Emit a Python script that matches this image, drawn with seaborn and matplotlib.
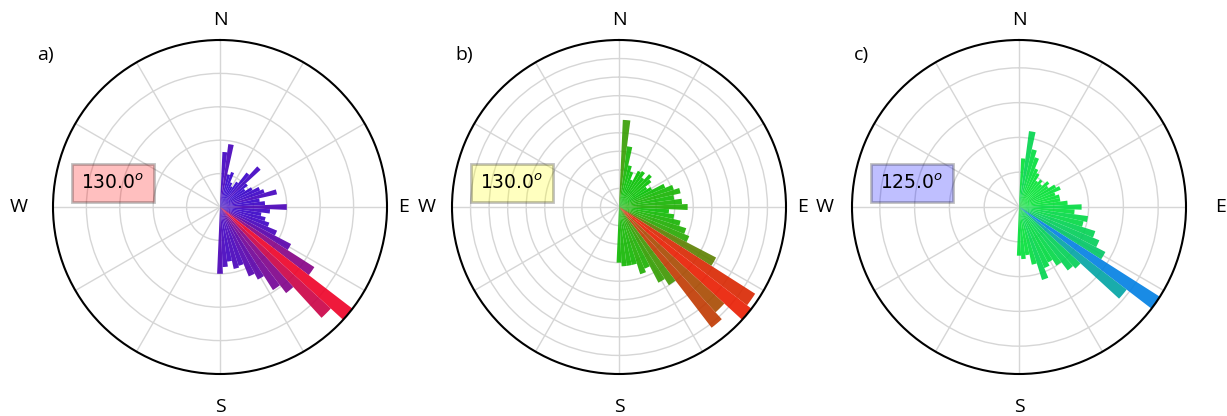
import numpy as np
import matplotlib
matplotlib.use('Agg')
import matplotlib.pyplot as plt
import seaborn as sns
from matplotlib.colors import PowerNorm

# Rose diagrams of orientation (5 degree bins, bin centres 5..180)
bin_centers = list(range(5, 185, 5))

freq_a = [3.3, 3.8, 2.0, 2.2, 1.6, 1.4, 1.8, 2.6, 3.3, 2.1, 1.8, 2.2,
          2.6, 2.8, 3.5, 2.4, 2.7, 4.0, 3.0, 2.5, 2.8, 3.1, 3.7, 4.8,
          6.7, 10.0, 9.0, 6.5, 5.9, 4.9, 4.5, 3.7, 3.8, 3.3, 3.6, 4.0]
freq_b = [4.7, 3.3, 2.3, 2.0, 1.6, 2.2, 2.3, 2.0, 2.4, 2.2, 1.8, 2.0,
          2.7, 3.1, 3.4, 3.0, 3.4, 3.7, 2.7, 3.0, 3.4, 3.8, 4.1, 5.9,
          8.7, 9.0, 7.7, 8.2, 5.0, 4.6, 3.6, 3.8, 3.2, 3.2, 3.2, 3.0]
freq_c = [1.4, 2.2, 1.7, 1.5, 1.2, 1.1, 0.9, 1.0, 0.9, 1.1, 1.0, 1.2,
          1.3, 1.1, 1.2, 1.2, 1.4, 1.8, 1.6, 2.0, 1.9, 2.3, 2.5, 2.8,
          4.8, 3.9, 2.4, 2.3, 2.0, 1.8, 1.9, 2.2, 1.7, 1.4, 1.5, 1.4]

mean_dirs = [130.0, 130.0, 125.0]
panel_tags = ['a)', 'b)', 'c)']
ring_steps = [2, 1, 1]
low_colors = ['#3100CD', '#00C200', '#00E331']
high_colors = ['#EE0026', '#E91B00', '#007FE3']
box_colors = ['red', 'yellow', 'blue']

sns.set_theme(style='white')
plt.rcParams['font.family'] = ['DejaVu Sans']
plt.rcParams['text.color'] = 'black'

W, H = 1227, 416
fig = plt.figure(figsize=(W / 100, H / 100), dpi=100)

lefts = [53, 452, 852]
tag_x = [45, 464, 861]
# distance (px) of the E and W labels from the centre, per panel
east_off = [184, 184, 202]
west_off = [201, 192, 194]
R = 167.0
label_font = ['Open Sans', 'DejaVu Sans']

for i, vals in enumerate([freq_a, freq_b, freq_c]):
    vals = np.array(vals)
    ax = fig.add_axes([lefts[i] / W, 42 / H, 334 / W, 334 / H], projection='polar')
    ax.set_theta_zero_location('N')
    ax.set_theta_direction(-1)

    cmap = sns.blend_palette([low_colors[i], high_colors[i]], as_cmap=True)
    norm = PowerNorm(gamma=1.7, vmin=vals.min(), vmax=vals.max())
    ax.bar(np.deg2rad(bin_centers), vals, width=np.deg2rad(5),
           color=cmap(norm(vals)), alpha=0.9, edgecolor='none', zorder=2)

    ax.set_ylim(0, vals.max())
    ax.set_yticks(np.arange(ring_steps[i], vals.max(), ring_steps[i]))
    ax.set_yticklabels([])
    ax.set_thetagrids(range(0, 360, 30), labels=[''] * 12)
    ax.grid(True, color='#d6d6d6', linewidth=1.0, zorder=1)
    ax.spines['polar'].set_color('black')
    ax.spines['polar'].set_linewidth(1.5)

    # compass labels
    for txt, (x, y) in [('N', (0.5, 0.5 + 187 / (2 * R))),
                        ('S', (0.5, 0.5 - 200 / (2 * R))),
                        ('E', (0.5 + east_off[i] / (2 * R), 0.5)),
                        ('W', (0.5 - west_off[i] / (2 * R), 0.5))]:
        ax.text(x, y, txt, transform=ax.transAxes, ha='center', va='center',
                fontsize=14, family=label_font, color='black')

    ax.text(0.18, 0.572, f'{mean_dirs[i]:.1f}$^o$', transform=ax.transAxes,
            ha='center', va='center', fontsize=13.5, zorder=5, color='black',
            bbox=dict(boxstyle='square,pad=0.5', facecolor=box_colors[i],
                      edgecolor='black', linewidth=2, alpha=0.25))

    fig.text(tag_x[i] / W, 1 - 55 / H, panel_tags[i], ha='center', va='center',
             fontsize=14, family=label_font, color='black')

fig.savefig('out.png', dpi=100)
